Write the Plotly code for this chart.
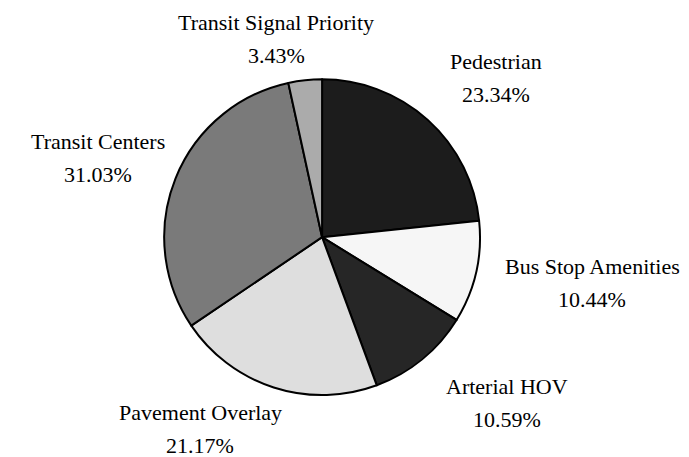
import plotly.graph_objects as go

# slice data, clockwise from 12 o'clock
labels = ["Pedestrian", "Bus Stop Amenities", "Arterial HOV",
          "Pavement Overlay", "Transit Centers", "Transit Signal Priority"]
shares = [23.34, 10.44, 10.59, 21.17, 31.03, 3.43]
fills = ["#1c1c1c", "#f6f6f6", "#262626", "#dedede", "#7a7a7a", "#ababab"]

# label centres in pixels (x, y of the name line), same order as labels
label_px = [488, 584, 499, 192, 90, 268]
label_py = [53, 258, 378, 404, 133, 15]
line_gap = 33

W, H = 689, 457

fig = go.Figure()
fig.add_trace(go.Pie(
    labels=labels,
    values=shares,
    sort=False,
    direction="clockwise",
    rotation=0,
    textinfo="none",
    hoverinfo="label+percent",
    marker=dict(colors=fills, line=dict(color="black", width=2)),
    domain=dict(x=[0.2265, 0.6852], y=[0.153, 0.844]),
    showlegend=False,
))

font = dict(family="Liberation Serif", size=22, color="black")
for name, val, px, py in zip(labels, shares, label_px, label_py):
    for txt, yy in ((name, py), (f"{val:.2f}%", py + line_gap)):
        fig.add_annotation(
            x=px / W, y=1 - yy / H, xref="paper", yref="paper",
            xanchor="center", yanchor="middle",
            text=txt, showarrow=False, font=font,
        )

fig.update_layout(
    width=W, height=H,
    margin=dict(l=0, r=0, t=0, b=0),
    paper_bgcolor="white",
    plot_bgcolor="white",
)

fig.write_html("out.html")
